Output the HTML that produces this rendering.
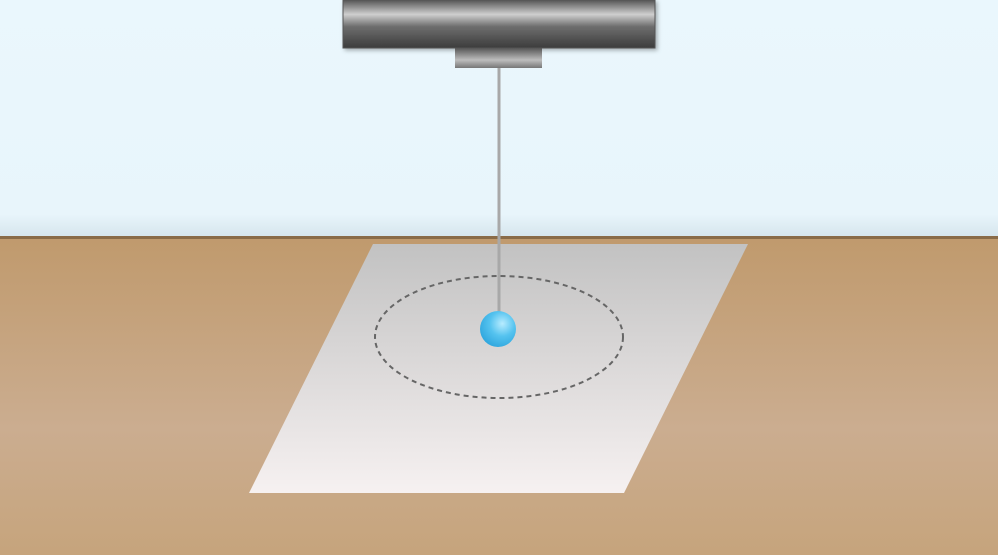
<!DOCTYPE html>
<html><head><meta charset="utf-8"><style>
html,body{margin:0;padding:0;width:998px;height:555px;overflow:hidden;background:#e9f6fc}
</style></head><body>
<svg width="998" height="555" viewBox="0 0 998 555">
<defs>
<linearGradient id="sky" x1="0" y1="0" x2="0" y2="1">
<stop offset="0" stop-color="#eaf7fd"/><stop offset="0.9" stop-color="#e8f5fb"/><stop offset="1" stop-color="#d5e4ec"/></linearGradient>
<linearGradient id="table" x1="0" y1="0" x2="0" y2="1">
<stop offset="0" stop-color="#c09a6d"/><stop offset="0.6" stop-color="#cbad90"/><stop offset="1" stop-color="#c6a47c"/></linearGradient>
<linearGradient id="paper" x1="0" y1="0" x2="0" y2="1">
<stop offset="0" stop-color="#c2c2c2"/><stop offset="1" stop-color="#f6f1f1"/></linearGradient>
<linearGradient id="bar" x1="0" y1="0" x2="0" y2="1">
<stop offset="0" stop-color="#555"/><stop offset="0.3" stop-color="#cfcfcf"/><stop offset="0.55" stop-color="#6e6e6e"/><stop offset="1" stop-color="#3c3c3c"/></linearGradient>
<linearGradient id="mount" x1="0" y1="0" x2="0" y2="1">
<stop offset="0" stop-color="#555"/><stop offset="0.6" stop-color="#bdbdbd"/><stop offset="1" stop-color="#777"/></linearGradient>
<radialGradient id="ball" cx="0.62" cy="0.35" r="0.7">
<stop offset="0" stop-color="#b8ecff"/><stop offset="0.5" stop-color="#55c3ef"/><stop offset="1" stop-color="#2fa6de"/></radialGradient>
<filter id="sh" x="-10%" y="-20%" width="120%" height="160%"><feDropShadow dx="2" dy="2" stdDeviation="2" flood-opacity="0.3"/></filter>
</defs>
<rect x="0" y="0" width="998" height="238" fill="url(#sky)"/>
<rect x="0" y="238" width="998" height="317" fill="url(#table)"/>
<rect x="0" y="236" width="998" height="3" fill="#8a6b48"/>
<polygon points="373,244 748,244 624,493 249,493" fill="url(#paper)"/>
<ellipse cx="499" cy="337" rx="124" ry="61" fill="none" stroke="#666" stroke-width="2" stroke-dasharray="5,4"/>
<rect x="343" y="0" width="312" height="48" fill="url(#bar)" stroke="#555" stroke-width="1" filter="url(#sh)"/>
<rect x="455" y="48" width="87" height="20" fill="url(#mount)"/>
<line x1="499" y1="68" x2="499" y2="314" stroke="#a8a8a8" stroke-width="3"/>
<circle cx="498" cy="329" r="18" fill="url(#ball)"/>
</svg>
</body></html>
